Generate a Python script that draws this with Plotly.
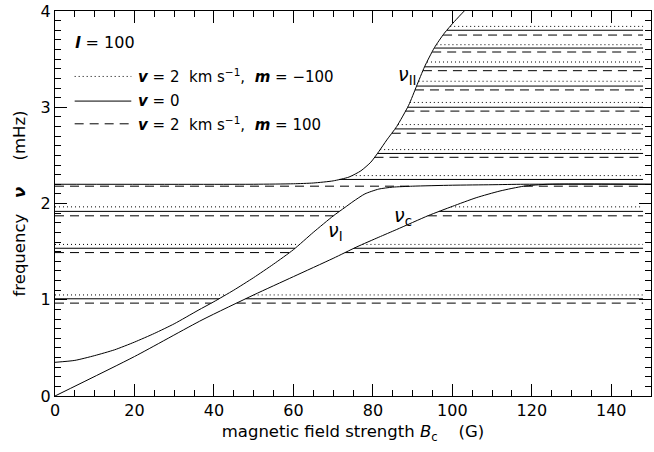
import numpy as np
import plotly.graph_objects as go

# ---- data ----
B_I = [0, 5, 10, 15, 20, 25, 30, 36, 40, 45, 50, 55, 60, 65, 70, 73, 75, 78, 81.5, 85, 90, 100, 110, 118, 150]
nu_I = [0.35, 0.37, 0.42, 0.48, 0.56, 0.65, 0.75, 0.89, 0.98, 1.10, 1.23, 1.37, 1.52, 1.70, 1.87, 1.96, 2.02, 2.10, 2.15, 2.17, 2.18, 2.19, 2.195, 2.2, 2.2]

B_c = [0, 20, 37, 50, 60, 70, 76, 81.5, 86, 94, 100, 106, 112, 118, 124, 150]
nu_c = [0, 0.41, 0.79, 1.05, 1.24, 1.43, 1.55, 1.65, 1.73, 1.875, 1.97, 2.06, 2.13, 2.18, 2.2, 2.2]

B_II = [0, 50, 60, 65, 70, 74, 77, 79.5, 81.5, 83.5, 86, 89, 91, 93, 95.5, 98, 100.5, 103, 105]
nu_II = [2.2, 2.2, 2.205, 2.213, 2.235, 2.275, 2.34, 2.43, 2.54, 2.66, 2.80, 3.02, 3.22, 3.42, 3.62, 3.77, 3.89, 4.0, 4.08]

# eigenfrequencies below the band (dotted m=-100, solid v=0, dashed m=100)
low_dot = [1.05, 1.575, 1.965]
low_sol = [1.01, 1.535, 1.918]
low_dash = [0.965, 1.49, 1.872, 2.18]
# eigenfrequencies above nu_II
high_dot = [2.29, 2.56, 2.82, 3.05, 3.27, 3.47, 3.65, 3.84]
high_sol = [2.25, 2.52, 2.775, 3.0, 3.22, 3.42, 3.615, 3.80]
high_dash = [2.48, 2.73, 2.96, 3.18, 3.38, 3.574, 3.75]

B_end = 148.0

x_ticks = [0, 20, 40, 60, 80, 100, 120, 140]
y_ticks = [0, 1, 2, 3, 4]


def inv(Bs, nus, level):
    nus = np.asarray(nus, float)
    Bs = np.asarray(Bs, float)
    return float(np.interp(level, np.maximum.accumulate(nus) + np.arange(len(nus)) * 1e-9, Bs))


def low_segments(levels):
    xs, ys = [], []
    for lv in levels:
        b1 = inv(B_I, nu_I, lv)
        b2 = inv(B_c, nu_c, lv)
        xs += [0, b1, None, b2, B_end, None]
        ys += [lv, lv, None, lv, lv, None]
    return xs, ys


def high_segments(levels):
    xs, ys = [], []
    for lv in levels:
        b = inv(B_II, nu_II, lv)
        xs += [b, B_end, None]
        ys += [lv, lv, None]
    return xs, ys


DOT = "1px,3px"
DASH = "9px,6px"

fig = go.Figure()
for fn, lvls, dash in [(low_segments, low_dot, DOT), (low_segments, low_sol, "solid"),
                       (low_segments, low_dash, DASH), (high_segments, high_dot, DOT),
                       (high_segments, high_sol, "solid"), (high_segments, high_dash, DASH)]:
    xs, ys = fn(lvls)
    fig.add_trace(go.Scatter(x=xs, y=ys, mode="lines",
                             line=dict(color="black", width=1, dash=dash),
                             hoverinfo="skip", showlegend=False))

for Bs, nus in [(B_I, nu_I), (B_c, nu_c), (B_II, nu_II)]:
    fig.add_trace(go.Scatter(x=Bs, y=nus, mode="lines",
                             line=dict(color="black", width=1, shape="spline", smoothing=0.6),
                             hoverinfo="skip", showlegend=False))

FONT = "DejaVu Sans"
BLK = "black"

# curve labels
ann = [
    dict(x=70.6, y=1.71, text="<i>ν</i><sub>I</sub>"),
    dict(x=87.6, y=1.86, text="<i>ν</i><sub>c</sub>"),
    dict(x=88.6, y=3.33, text="<i>ν</i><sub>II</sub>"),
]
for a in ann:
    fig.add_annotation(x=a["x"], y=a["y"], text=a["text"], showarrow=False,
                       font=dict(family=FONT, size=19, color=BLK))

# legend (manual)
leg_x0, leg_x1 = 0.033, 0.128
leg_txt_x = 0.136
fig.add_annotation(xref="paper", yref="paper", x=0.030, y=0.917, xanchor="left", yanchor="middle",
                   text="<b><i>l</i></b> = 100", showarrow=False, font=dict(family=FONT, size=16, color=BLK))
for yv, dash, txt in [(0.830, DOT, "<b><i>v</i></b> = 2  km s<sup>−1</sup>,  <b><i>m</i></b> = −100"),
                      (0.766, "solid", "<b><i>v</i></b> = 0"),
                      (0.707, DASH, "<b><i>v</i></b> = 2  km s<sup>−1</sup>,  <b><i>m</i></b> = 100")]:
    fig.add_shape(type="line", xref="paper", yref="paper", x0=leg_x0, x1=leg_x1, y0=yv, y1=yv,
                  line=dict(color=BLK, width=1, dash=dash))
    fig.add_annotation(xref="paper", yref="paper", x=leg_txt_x, y=yv, xanchor="left", yanchor="middle",
                       text=txt, showarrow=False, font=dict(family=FONT, size=15, color=BLK))

axis_common = dict(showline=True, linecolor=BLK, linewidth=1, mirror="allticks",
                   ticks="inside", ticklen=12, tickcolor=BLK, tickwidth=1,
                   showgrid=False, zeroline=False, ticklabeloverflow="allow",
                   tickfont=dict(family=FONT, size=16, color=BLK))

fig.update_xaxes(range=[0, 150], tickvals=x_ticks, ticktext=[str(t) for t in x_ticks],
                 minor=dict(dtick=5, ticks="inside", ticklen=6, tickcolor=BLK, showgrid=False),
                 title=dict(text="magnetic field strength <i>B</i><sub>c</sub>    (G)",
                            font=dict(family=FONT, size=16.5, color=BLK), standoff=6),
                 **axis_common)
fig.update_yaxes(range=[0, 4], tickvals=y_ticks, ticktext=[str(t) for t in y_ticks],
                 minor=dict(dtick=0.1, ticks="inside", ticklen=6, tickcolor=BLK, showgrid=False),
                 title=dict(text="frequency   <b><i>ν</i></b>     (mHz)",
                            font=dict(family=FONT, size=16.5, color=BLK), standoff=10),
                 **axis_common)

fig.update_layout(width=654, height=452, margin=dict(l=55, r=2, t=7, b=56),
                  plot_bgcolor="white", paper_bgcolor="white", showlegend=False)

fig.write_html("out.html")
